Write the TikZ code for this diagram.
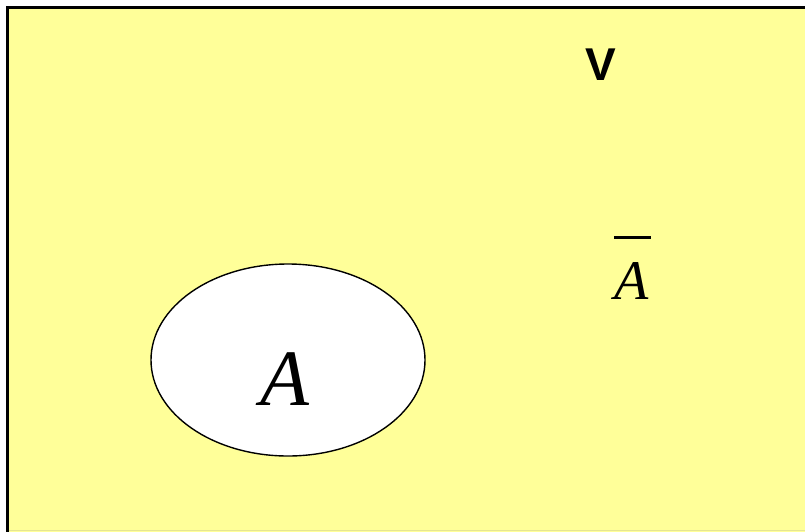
\documentclass[tikz,border=0pt]{standalone}
\usepackage{fontspec}
\usetikzlibrary{shapes.geometric}
\setmainfont{Liberation Serif}
\newfontfamily\arialfont{Liberation Sans}
\definecolor{venny}{HTML}{FFFF99}
\begin{document}
\begin{tikzpicture}[x=1pt,y=-1pt,
  lbl/.style={inner sep=0pt,anchor=base}]
\useasboundingbox (0,0) rectangle (805,531);
\clip (0,0) rectangle (805,531);
\fill[white] (0,0) rectangle (805,531);
\draw[fill=venny,line width=2.6pt] (7.5,7.5) rectangle (815,540);
\fill[venny!80!gray] (8.8,529.8) rectangle (815,531);
\node[draw,line width=1.4pt,fill=white,ellipse,minimum width=274pt,minimum height=192pt,inner sep=0pt] (setA) at (288,360) {};
\node[lbl] (la) at (285,405) {\fontsize{80}{80}\selectfont\itshape A};
\node[lbl] (lv) at (601,80) {\arialfont\bfseries\fontsize{46}{46}\selectfont V};
\node[lbl] (abar) at (632,299) {\fontsize{56}{56}\selectfont\itshape A};
\draw[line width=3pt] ([shift={(-18,-62)}]abar.base) -- ([shift={(19,-62)}]abar.base);
\end{tikzpicture}
\end{document}
